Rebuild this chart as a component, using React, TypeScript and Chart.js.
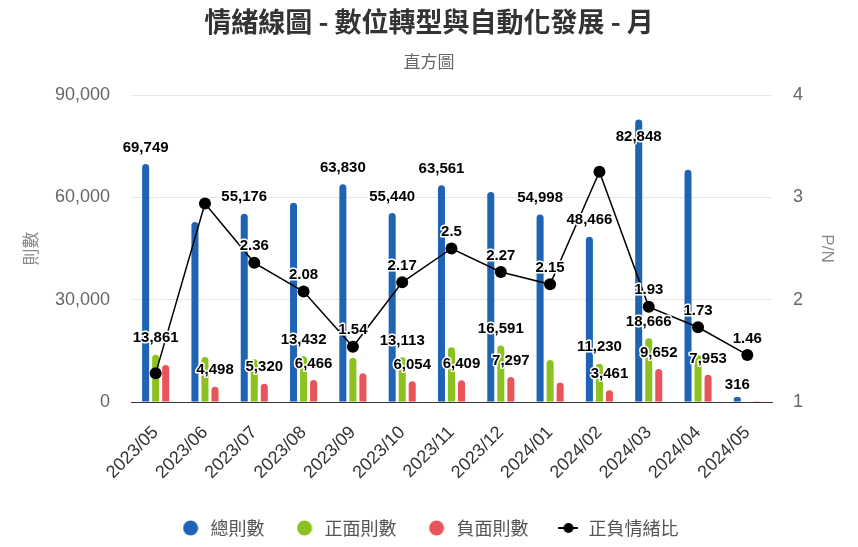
import React, { useEffect, useRef } from 'react';
import { Chart, registerables } from 'chart.js';

Chart.register(...registerables);

const months = ['2023/05', '2023/06', '2023/07', '2023/08', '2023/09', '2023/10', '2023/11', '2023/12', '2024/01', '2024/02', '2024/03', '2024/04', '2024/05'];
const totalCounts = [69749, 52800, 55176, 58400, 63830, 55440, 63561, 61600, 54998, 48466, 82848, 68100, 316];
const positiveCounts = [13861, 13224, 12555, 13432, 12950, 13113, 16020, 16591, 12300, 11230, 18666, 13760, 130];
const negativeCounts = [10830, 4498, 5320, 6466, 8410, 6054, 6409, 7297, 5720, 3461, 9652, 7953, 89];
const sentimentRatio = [1.28, 2.94, 2.36, 2.08, 1.54, 2.17, 2.5, 2.27, 2.15, 3.25, 1.93, 1.73, 1.46];
const leftTicks = [0, 30000, 60000, 90000];
const rightTicks = [1, 2, 3, 4];
const seriesNames = ['總則數', '正面則數', '負面則數', '正負情緒比'];

const CJK = '"Noto Sans CJK TC", "Noto Sans", sans-serif';
const LATIN = '"Liberation Sans", Arial, sans-serif';

const BLUE = '#1e63b4';
const GREEN = '#8cc21f';
const RED = '#e9545b';

function circleMarker(color: string) {
  const c = document.createElement('canvas');
  c.width = 16;
  c.height = 16;
  const g = c.getContext('2d')!;
  g.fillStyle = color;
  g.beginPath();
  g.arc(8, 8, 7.5, 0, Math.PI * 2);
  g.fill();
  return c;
}

function lineMarker() {
  const c = document.createElement('canvas');
  c.width = 20;
  c.height = 12;
  const g = c.getContext('2d')!;
  g.strokeStyle = '#000';
  g.lineWidth = 2;
  g.beginPath();
  g.moveTo(0, 6);
  g.lineTo(20, 6);
  g.stroke();
  g.fillStyle = '#000';
  g.beginPath();
  g.arc(10, 6, 5, 0, Math.PI * 2);
  g.fill();
  return c;
}

const valueLabelPlugin = {
  id: 'valueLabels',
  afterDatasetsDraw(chart: any) {
    const { ctx, chartArea } = chart;
    ctx.save();
    ctx.font = 'bold 15px ' + LATIN;
    const labels: any[] = [];
    chart.data.datasets.forEach((ds: any, di: number) => {
      const meta = chart.getDatasetMeta(di);
      const scale = chart.scales[meta.yAxisID];
      const isBar = meta.type === 'bar';
      meta.data.forEach((el: any, i: number) => {
        const v = ds.data[i];
        const y = scale.getPixelForValue(v);
        const text = isBar ? Number(v).toLocaleString('en-US') : String(v);
        const w = ctx.measureText(text).width;
        let cy = y - 18;
        if (isBar && cy - 9 < chartArea.top) cy = y + 16;
        labels.push({ text, x: el.x, cy, w: w + 4, h: 22, rank: isBar ? chartArea.bottom - y : 0, order: labels.length });
      });
    });
    labels.sort((a, b) => b.rank - a.rank || a.order - b.order);
    const shown: any[] = [];
    for (const l of labels) {
      const ok = shown.every((s) => Math.abs(s.x - l.x) * 2 >= s.w + l.w || Math.abs(s.cy - l.cy) * 2 >= s.h + l.h);
      if (ok) shown.push(l);
    }
    ctx.textAlign = 'center';
    ctx.textBaseline = 'middle';
    ctx.lineJoin = 'round';
    ctx.lineWidth = 3;
    ctx.strokeStyle = '#fff';
    ctx.fillStyle = '#000';
    shown.forEach((l) => {
      ctx.strokeText(l.text, l.x, l.cy + 1.5);
      ctx.fillText(l.text, l.x, l.cy + 1.5);
    });
    ctx.restore();
  },
};

export default function App() {
  const ref = useRef<HTMLCanvasElement>(null);

  useEffect(() => {
    document.body.style.margin = '0';
    const markers = [circleMarker(BLUE), circleMarker(GREEN), circleMarker(RED), lineMarker()];
    const barCommon = {
      type: 'bar' as const,
      yAxisID: 'y',
      order: 1,
      categoryPercentage: 0.61,
      barPercentage: 0.7,
      borderRadius: 4,
      borderSkipped: 'start' as const,
    };
    const chart = new Chart(ref.current!, {
      type: 'bar',
      data: {
        labels: months,
        datasets: [
          { ...barCommon, label: seriesNames[0], data: totalCounts, backgroundColor: BLUE, minBarLength: 5 },
          { ...barCommon, label: seriesNames[1], data: positiveCounts, backgroundColor: GREEN },
          { ...barCommon, label: seriesNames[2], data: negativeCounts, backgroundColor: RED },
          {
            type: 'line',
            label: seriesNames[3],
            data: sentimentRatio,
            yAxisID: 'y1',
            order: 0,
            borderColor: '#000',
            backgroundColor: '#000',
            borderWidth: 1.5,
            pointRadius: 6,
            pointBackgroundColor: '#000',
            pointBorderWidth: 0,
            tension: 0,
          } as any,
        ],
      },
      options: {
        responsive: false,
        animation: false,
        devicePixelRatio: 1,
        layout: { padding: 0 },
        plugins: {
          title: {
            display: true,
            text: '情緒線圖 - 數位轉型與自動化發展 - 月',
            color: '#333',
            font: { family: CJK, size: 27, weight: 'bold', lineHeight: 1.2 },
            padding: { top: 5.8, bottom: 6 },
          },
          subtitle: {
            display: true,
            text: '直方圖',
            color: '#666',
            font: { family: CJK, size: 17, lineHeight: 1.2 },
            padding: { top: 7.6, bottom: 22.8 },
          },
          legend: {
            position: 'bottom',
            labels: {
              usePointStyle: true,
              pointStyleWidth: 22,
              padding: 29,
              color: '#555',
              font: { family: CJK, size: 18 },
              sort: (a: any, b: any) => a.datasetIndex - b.datasetIndex,
              generateLabels: (c: any) => {
                const items = (Chart.defaults.plugins.legend.labels as any).generateLabels(c);
                return items.map((it: any) => ({ ...it, pointStyle: markers[it.datasetIndex] }));
              },
            },
          },
          tooltip: { enabled: false },
        },
        scales: {
          x: {
            grid: { display: false },
            border: { display: true, color: '#333', width: 1 },
            ticks: {
              color: '#333',
              font: { family: LATIN, size: 18 },
              minRotation: 45,
              maxRotation: 45,
              autoSkip: false,
              padding: 12,
            },
            afterFit: (s: any) => {
              s.height = 88;
            },
          },
          y: {
            position: 'left',
            min: 0,
            max: 90000,
            afterBuildTicks: (s: any) => {
              s.ticks = leftTicks.map((v) => ({ value: v }));
            },
            grid: {
              color: (c: any) => (c.tick && c.tick.value === 0 ? 'rgba(0,0,0,0)' : '#e6e6e6'),
              drawTicks: false,
            },
            border: { display: false },
            ticks: {
              color: '#666',
              font: { family: LATIN, size: 18 },
              padding: 21,
              callback: (v: any) => Number(v).toLocaleString('en-US'),
            },
            title: {
              display: true,
              text: '則數',
              color: '#888',
              font: { family: CJK, size: 17 },
              padding: { top: 20, bottom: 0 },
            },
            afterFit: (s: any) => {
              s.width = 131;
            },
          },
          y1: {
            position: 'right',
            min: 1,
            max: 4,
            afterBuildTicks: (s: any) => {
              s.ticks = rightTicks.map((v) => ({ value: v }));
            },
            grid: { display: false, drawTicks: false },
            border: { display: false },
            ticks: {
              color: '#666',
              font: { family: LATIN, size: 18 },
              padding: 21,
            },
            title: {
              display: true,
              text: 'P/N',
              color: '#888',
              font: { family: LATIN, size: 17 },
              padding: { top: 21, bottom: 0 },
            },
            afterFit: (s: any) => {
              s.width = 86;
            },
          },
        },
      } as any,
      plugins: [valueLabelPlugin],
    });
    return () => chart.destroy();
  }, []);

  return (
    <div style={{ width: 858, height: 547 }}>
      <canvas ref={ref} width={858} height={547} style={{ display: 'block', width: 858, height: 547 }} />
    </div>
  );
}
